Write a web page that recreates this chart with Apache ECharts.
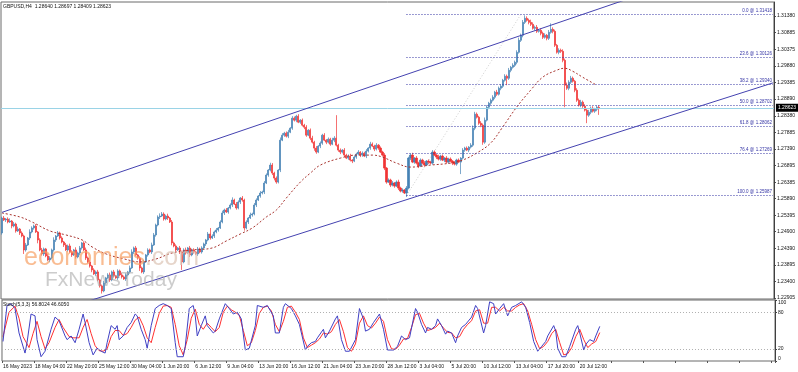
<!DOCTYPE html>
<html><head><meta charset="utf-8">
<script src="https://cdn.jsdelivr.net/npm/echarts@6/dist/echarts.min.js"></script>
<style>html,body{margin:0;padding:0;background:#fff}#c{width:798px;height:372px}</style>
</head><body><div id="c"></div>
<script>
// ---------- DATA ----------
const titleText = 'GBPUSD,H4  1.28640 1.28697 1.28409 1.28623';
const stochText = 'Stoch(5,3,3) 56.8024 46.6050';
const timeLabels = ['16 May 2023','18 May 04:00','22 May 20:00','25 May 12:00','30 May 04:00','1 Jun 20:00','6 Jun 12:00','9 Jun 04:00','13 Jun 20:00','16 Jun 12:00','21 Jun 04:00','23 Jun 20:00','28 Jun 12:00','3 Jul 04:00','5 Jul 20:00','10 Jul 12:00','13 Jul 04:00','17 Jul 20:00','20 Jul 12:00'];
const barsPerLabel = 16;
const totalSlots = 386;
const priceTicks = [1.31380,1.30885,1.30375,1.29880,1.29385,1.28890,1.28380,1.27885,1.27390,1.26895,1.26385,1.25890,1.25395,1.24900,1.24390,1.23895,1.23400,1.22905];
const stochTicks = [0,20,80,100];
const firstOpen = 1.2486;
const closes = [
1.2531,1.2525,1.2528,1.2519,1.2522,1.2507,1.2513,1.2492,1.2498,1.2486,
1.2477,1.2435,1.2450,1.2471,1.2489,1.2501,1.2507,1.2489,1.2465,1.2435,
1.2423,1.2438,1.2417,1.2405,1.2411,1.2435,1.2465,1.2477,1.2486,1.2471,
1.2459,1.2450,1.2435,1.2447,1.2429,1.2420,1.2435,1.2414,1.2426,1.2441,
1.2456,1.2435,1.2411,1.2399,1.2387,1.2375,1.2363,1.2369,1.2345,1.2327,
1.2312,1.2336,1.2351,1.2360,1.2345,1.2369,1.2357,1.2351,1.2372,1.2360,
1.2354,1.2348,1.2360,1.2369,1.2381,1.2429,1.2441,1.2420,1.2411,1.2381,
1.2369,1.2399,1.2420,1.2435,1.2429,1.2450,1.2480,1.2510,1.2534,1.2537,
1.2543,1.2528,1.2537,1.2531,1.2519,1.2456,1.2447,1.2435,1.2441,1.2429,
1.2399,1.2435,1.2426,1.2441,1.2420,1.2435,1.2429,1.2423,1.2438,1.2429,
1.2441,1.2453,1.2465,1.2483,1.2471,1.2477,1.2489,1.2495,1.2501,1.2519,
1.2546,1.2555,1.2549,1.2561,1.2570,1.2585,1.2573,1.2561,1.2579,1.2591,
1.2585,1.2501,1.2519,1.2531,1.2540,1.2543,1.2570,1.2585,1.2597,1.2606,
1.2609,1.2636,1.2660,1.2675,1.2690,1.2666,1.2651,1.2639,1.2675,1.2765,
1.2780,1.2786,1.2777,1.2789,1.2801,1.2831,1.2825,1.2837,1.2819,1.2825,
1.2810,1.2804,1.2780,1.2795,1.2771,1.2759,1.2741,1.2729,1.2747,1.2756,
1.2780,1.2765,1.2759,1.2768,1.2753,1.2765,1.2771,1.2750,1.2735,1.2729,
1.2735,1.2720,1.2711,1.2717,1.2705,1.2702,1.2714,1.2723,1.2729,1.2720,
1.2726,1.2717,1.2732,1.2741,1.2753,1.2747,1.2738,1.2750,1.2741,1.2729,
1.2720,1.2681,1.2639,1.2645,1.2630,1.2636,1.2627,1.2639,1.2621,1.2612,
1.2615,1.2606,1.2621,1.2711,1.2720,1.2699,1.2711,1.2696,1.2687,1.2705,
1.2696,1.2690,1.2702,1.2699,1.2696,1.2729,1.2720,1.2714,1.2708,1.2717,
1.2705,1.2711,1.2699,1.2708,1.2702,1.2696,1.2693,1.2705,1.2699,1.2711,
1.2735,1.2741,1.2735,1.2744,1.2750,1.2801,1.2843,1.2834,1.2816,1.2810,
1.2759,1.2825,1.2864,1.2876,1.2885,1.2894,1.2909,1.2903,1.2921,1.2927,
1.2945,1.2957,1.2951,1.2975,1.2984,1.2990,1.2999,1.3029,1.3065,1.3080,
1.3119,1.3131,1.3125,1.3119,1.3113,1.3101,1.3104,1.3092,1.3095,1.3086,
1.3074,1.3080,1.3071,1.3089,1.3098,1.3092,1.3050,1.3029,1.3035,1.3032,
1.3005,1.2930,1.2921,1.2939,1.2951,1.2942,1.2915,1.2885,1.2870,1.2879,
1.2867,1.2855,1.2840,1.2849,1.2861,1.2852,1.2858,1.2864,1.28623];
const wickHiPips = [
4,6,3,5,8,3,6,4,7,3, 5,4,6,3,8,5,4,6,3,5, 6,4,3,7,5,4,8,3,6,4, 5,3,6,4,7,5,3,8,4,6,
3,5,7,4,6,3,5,4,6,3, 4,6,3,5,7,4,6,3,5,4, 6,4,5,3,7,8,4,6,3,5, 4,6,3,5,4,7,6,4,5,8,
6,5,4,7,3,6,4,5,3,6, 4,5,7,3,6,4,5,3,6,4, 5,4,3,6,18,5,4,6,3,5, 7,4,6,3,5,8,4,6,5,3,
6,4,5,3,7,4,6,5,3,6, 4,6,5,3,7,6,4,5,3,8, 6,4,5,7,3,6,5,4,6,3, 5,4,6,3,5,7,4,6,3,5,
4,6,3,5,4,7,6,69,4,5, 3,6,4,5,7,3,5,4,6,3, 5,4,6,3,7,5,4,6,3,5, 4,6,3,5,4,6,3,5,7,4,
5,3,6,4,5,7,3,6,4,5, 4,6,3,5,4,6,5,3,7,4, 5,3,6,4,5,3,6,4,5,3, 6,4,5,3,6,8,7,5,4,6,
5,8,6,4,5,6,4,7,5,6, 4,6,5,7,4,6,5,6,8,5, 7,9,6,5,8,6,5,7,4,6, 5,6,4,7,18,6,5,4,6,5,
6,5,8,6,7,5,4,6,5,7, 5,6,4,7,5,6,4,5,6];
const wickLoPips = [
5,3,6,4,3,7,4,5,3,6, 4,12,5,3,6,4,5,3,10,4, 5,6,4,3,7,4,5,6,3,5, 4,6,3,5,4,6,3,5,4,7,
5,3,6,4,5,7,3,6,4,5, 8,4,5,3,6,4,5,3,6,4, 5,3,6,4,5,3,6,4,5,9, 4,6,3,5,4,6,3,5,4,6,
3,5,4,6,3,7,4,5,3,6, 24,4,5,3,6,4,5,3,6,4, 5,3,6,4,5,3,6,4,5,3, 4,6,3,5,4,6,3,5,4,6,
5,8,4,6,3,5,4,6,3,5, 4,6,3,5,4,6,7,5,4,6, 3,5,4,6,3,5,4,6,3,5, 4,6,5,3,6,4,8,5,3,6,
5,3,6,4,5,3,6,4,5,6, 4,6,3,5,4,6,3,5,4,6, 5,3,6,4,5,3,6,4,5,3, 4,6,5,3,6,4,5,3,6,4,
5,3,12,4,6,3,5,4,6,3, 4,5,3,6,4,5,3,6,4,5, 3,6,4,5,3,6,4,5,3,36, 4,5,3,6,4,5,6,4,5,6,
8,5,4,6,5,4,6,5,4,6, 5,4,21,5,6,4,5,6,4,5, 6,5,4,6,5,4,6,5,4,6, 5,4,6,5,4,6,5,4,6,5,
6,66,5,6,5,4,6,5,4,6, 5,4,24,5,6,4,5,6,21];
const lastBar = {open:1.28640, high:1.28697, low:1.28409, close:1.28623};
const currentPrice = 1.28623;
const maPoints = [[0,1.2546],[9,1.2534],[15,1.2519],[24,1.2492],[32,1.2480],[40,1.2465],[45,1.2444],[52,1.2423],[61,1.2408],[69,1.2399],[77,1.2408],[85,1.2426],[95,1.2435],[105,1.2441],[112,1.2462],[119,1.2483],[125,1.2501],[132,1.2534],[137,1.2555],[142,1.2591],[149,1.2639],[154,1.2666],[159,1.2690],[169,1.2711],[177,1.2720],[185,1.2720],[190,1.2714],[197,1.2696],[204,1.2684],[214,1.2690],[224,1.2696],[230,1.2705],[237,1.2726],[244,1.2756],[250,1.2804],[257,1.2864],[264,1.2915],[270,1.2954],[277,1.2975],[281,1.2981],[285,1.2972],[290,1.2954],[297,1.2930]];
const upperChannel = [[0,1.2548],[330,1.3225]];
const lowerChannel = [[43,1.2281],[385,1.2937]];
const fibLevels = [0.0,23.6,38.2,50.0,61.8,76.4,100.0];
const fibPrices = [1.31418,1.30126,1.29340,1.28702,1.28062,1.27269,1.25987];
const fibBase = [[202,1.25987],[259,1.31418]];
const fibEndIndex = 385;
const stochK = [[0,32],[2,91],[4,94],[6,86],[8,46],[11,13],[12,30],[14,77],[16,74],[17,35],[19,7],[21,16],[24,52],[26,72],[28,66],[31,41],[32,35],[34,41],[36,30],[38,52],[40,77],[41,63],[43,30],[45,10],[47,21],[49,16],[51,13],[52,30],[54,58],[56,52],[57,58],[58,35],[60,41],[62,55],[64,63],[66,77],[67,74],[69,52],[71,35],[72,21],[74,58],[76,86],[78,91],[80,94],[82,91],[84,86],[86,30],[87,7],[90,7],[91,24],[93,86],[95,91],[96,74],[97,41],[99,58],[101,74],[102,58],[105,46],[106,49],[108,69],[111,94],[113,86],[115,77],[117,80],[119,69],[121,18],[123,21],[126,58],[127,91],[130,88],[132,91],[135,74],[136,46],[138,46],[140,88],[141,94],[144,86],[146,74],[148,60],[151,18],[152,24],[154,30],[156,32],[157,38],[160,52],[161,38],[163,49],[166,69],[167,74],[169,35],[171,16],[173,16],[176,35],[178,86],[180,69],[181,49],[183,52],[185,63],[188,77],[190,52],[192,18],[195,18],[197,24],[199,41],[201,35],[203,38],[206,86],[207,80],[209,60],[211,46],[212,55],[214,52],[216,58],[217,69],[219,58],[221,44],[222,49],[224,46],[226,30],[227,41],[229,55],[231,60],[234,72],[236,91],[237,86],[240,46],[241,58],[243,97],[245,94],[246,77],[248,86],[250,94],[252,74],[254,88],[256,91],[259,97],[261,88],[263,63],[265,32],[267,16],[269,24],[271,32],[272,41],[275,58],[276,49],[277,21],[279,7],[281,7],[283,24],[286,52],[287,58],[288,46],[290,18],[291,27],[293,35],[295,32],[296,41],[298,56.8]];
const stochD = [[0,40],[3,80],[6,90],[8,70],[10,40],[13,22],[15,45],[17,65],[19,40],[21,20],[23,30],[26,55],[28,68],[30,55],[33,40],[35,38],[38,38],[40,55],[42,68],[44,45],[46,25],[48,17],[50,16],[52,20],[54,40],[56,50],[58,50],[60,42],[62,45],[64,55],[66,67],[68,72],[70,58],[72,38],[74,30],[76,55],[78,78],[80,90],[82,91],[84,88],[86,60],[88,25],[90,10],[92,35],[94,70],[96,85],[98,60],[100,52],[102,62],[104,55],[106,48],[108,55],[110,80],[112,90],[114,84],[116,80],[118,75],[120,50],[122,25],[124,30],[126,50],[128,78],[130,88],[132,90],[134,82],[136,60],[138,48],[140,65],[142,88],[144,90],[146,80],[148,68],[150,38],[152,22],[154,26],[156,30],[158,36],[160,46],[162,44],[164,48],[166,60],[168,68],[170,48],[172,22],[174,16],[176,28],[178,62],[180,74],[182,58],[184,54],[186,62],[188,72],[190,65],[192,35],[194,20],[196,19],[198,26],[200,36],[202,37],[204,55],[206,76],[208,78],[210,62],[212,50],[214,52],[216,55],[218,62],[220,54],[222,47],[224,46],[226,38],[228,40],[230,52],[232,60],[234,66],[236,82],[238,84],[240,62],[242,62],[244,88],[246,88],[248,82],[250,88],[252,82],[254,82],[256,88],[258,92],[260,94],[262,82],[264,60],[266,35],[268,20],[270,24],[272,32],[274,45],[276,52],[278,30],[280,10],[282,12],[284,22],[286,40],[288,52],[290,35],[292,22],[294,28],[296,32],[298,46.6]];

// ---------- BUILD ----------
const cats = [];
for (let i = 0; i < totalSlots; i++) cats.push(String(i));
const labelAt = (idx) => (idx % barsPerLabel === 0 ? (timeLabels[idx / barsPerLabel] || '') : '');

const candles = closes.map((c, i) => {
  const o = i === 0 ? firstOpen : closes[i - 1];
  const hi = Math.max(o, c) + wickHiPips[i] * 0.0001;
  const lo = Math.min(o, c) - wickLoPips[i] * 0.0001;
  return [o, c, lo, hi];
});
const li = candles.length - 1;
candles[li] = [lastBar.open, lastBar.close, lastBar.low, lastBar.high];

const FONT = 'Liberation Sans';
const BLUE = '#4682B4', RED = '#F03434';

const fibMark = fibLevels.map((lv, k) => [
  {coord: [fibBase[0][0], fibPrices[k]], label: {formatter: lv.toFixed(1) + ' @ ' + fibPrices[k].toFixed(5)}},
  {coord: [fibEndIndex, fibPrices[k]]}
]);

const chart = echarts.init(document.getElementById('c'), null, {renderer: 'canvas'});
chart.setOption({
  animation: false,
  backgroundColor: '#fff',
  textStyle: {fontFamily: FONT},
  grid: [
    {left: 1, right: 23, top: 2, height: 297, show: true, borderColor: '#6a6a6a', borderWidth: 1, backgroundColor: '#fff'},
    {left: 1, right: 23, top: 300, height: 61, show: true, borderColor: '#6a6a6a', borderWidth: 1, backgroundColor: '#fff'}
  ],
  xAxis: [
    {type: 'category', gridIndex: 0, data: cats, axisLabel: {show: false}, axisTick: {show: false}, axisLine: {show: false}, splitLine: {show: false}},
    {type: 'category', gridIndex: 1, data: cats, axisLine: {show: false},
     axisTick: {show: true, interval: (idx) => idx % barsPerLabel === 0, length: 2, lineStyle: {color: '#555'}},
     axisLabel: {show: true, interval: (idx) => idx % barsPerLabel === 0, formatter: (v, idx) => labelAt(idx), fontSize: 5, color: '#111', align: 'left', margin: 3, fontFamily: FONT},
     splitLine: {show: false}}
  ],
  yAxis: [
    {type: 'value', gridIndex: 0, position: 'right', min: 1.22876, max: 1.31801, scale: true,
     axisLine: {show: true, lineStyle: {color: '#404040'}},
     axisTick: {show: true, customValues: priceTicks, length: 2, lineStyle: {color: '#404040'}},
     axisLabel: {show: true, customValues: priceTicks, formatter: (v) => v.toFixed(5), fontSize: 5, color: '#111', margin: 3, fontFamily: FONT},
     splitLine: {show: false}},
    {type: 'value', gridIndex: 1, position: 'right', min: 0, max: 100,
     axisLine: {show: true, lineStyle: {color: '#404040'}},
     axisTick: {show: true, customValues: stochTicks, length: 2, lineStyle: {color: '#404040'}},
     axisLabel: {show: true, customValues: stochTicks, showMinLabel: true, showMaxLabel: true,
       verticalAlignMinLabel: 'bottom', verticalAlignMaxLabel: 'top',
       fontSize: 5, color: '#111', margin: 3, fontFamily: FONT},
     splitLine: {show: false}}
  ],
  series: [
    {type: 'candlestick', xAxisIndex: 0, yAxisIndex: 0, data: candles, barWidth: 1.6, z: 3,
     large: false, progressive: 0,
     itemStyle: {color: BLUE, color0: RED, borderColor: BLUE, borderColor0: RED, borderWidth: 0.7}},
    {type: 'line', xAxisIndex: 0, yAxisIndex: 0, data: maPoints, smooth: 0.4, symbol: 'none', z: 4,
     lineStyle: {color: '#A8332E', width: 1, type: [2, 2]},
     markLine: {silent: true, symbol: ['none', 'none'], animation: false, precision: 5,
       lineStyle: {color: '#9AD3E6', width: 1, type: 'solid'},
       label: {show: true, position: 'end', distance: 2, formatter: currentPrice.toFixed(5), backgroundColor: '#000', color: '#fff', fontSize: 5, padding: [2, 2, 1, 2], fontFamily: FONT},
       data: [{yAxis: currentPrice, lineStyle: {color: '#9AD3E6', width: 1, type: 'solid'}}]}},
    {type: 'line', xAxisIndex: 0, yAxisIndex: 0, data: fibBase, symbol: 'none', z: 2,
     lineStyle: {color: '#cfcfcf', width: 1, type: [1, 2]},
     markLine: {silent: true, symbol: ['none', 'none'], animation: false,
       lineStyle: {color: '#3434A4', width: 1, type: [1, 2]},
       label: {show: true, position: 'insideEndTop', distance: 1, fontSize: 4.5, color: '#3535A5', fontFamily: FONT},
       data: fibMark}},
    {type: 'line', xAxisIndex: 0, yAxisIndex: 0, data: upperChannel, symbol: 'none', z: 5, clip: true,
     lineStyle: {color: '#4442B0', width: 1}},
    {type: 'line', xAxisIndex: 0, yAxisIndex: 0, data: lowerChannel, symbol: 'none', z: 5, clip: true,
     lineStyle: {color: '#4442B0', width: 1}},
    {type: 'line', xAxisIndex: 1, yAxisIndex: 1, data: stochD, symbol: 'none', z: 3,
     lineStyle: {color: '#FF3030', width: 1},
     markLine: {silent: true, symbol: ['none', 'none'], animation: false, label: {show: false},
       lineStyle: {color: '#b0b0b0', width: 1, type: [1, 2]},
       data: [{yAxis: 20}, {yAxis: 80}]}},
    {type: 'line', xAxisIndex: 1, yAxisIndex: 1, data: stochK, symbol: 'none', z: 4,
     lineStyle: {color: '#4040C4', width: 1}}
  ],
  graphic: [
    {type: 'text', left: 3, top: 4, z: 100, style: {text: titleText, font: '5px "Liberation Sans"', fill: '#111'}},
    {type: 'text', left: 3, top: 302, z: 100, style: {text: stochText, font: '5px "Liberation Sans"', fill: '#111'}},
    {type: 'text', left: 24, top: 246, z: 90, silent: true,
     style: {text: '{a|economies}{b|.com}', rich: {
       a: {font: '25px "Liberation Sans"', fill: 'rgba(247,160,100,0.7)'},
       b: {font: '25px "Liberation Sans"', fill: 'rgba(220,195,180,0.7)'}}}},
    {type: 'text', left: 45, top: 270, z: 90, silent: true,
     style: {text: 'FxNewsToday', font: '21px "Liberation Sans"', fill: 'rgba(170,170,170,0.6)'}}
  ]
});
</script>
</body></html>
